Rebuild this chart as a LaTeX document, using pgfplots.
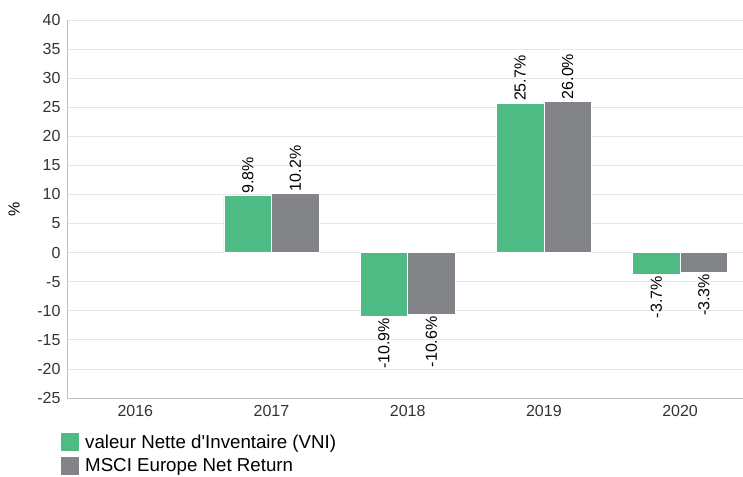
\documentclass[border=0pt]{standalone}
\usepackage{pgfplots}
\pgfplotsset{compat=1.18}
\usepackage{fontspec}
\setmainfont{Liberation Sans}
\definecolor{vni}{HTML}{4FBB84}
\definecolor{msci}{HTML}{838488}
\definecolor{gridc}{HTML}{E6E6E6}
\definecolor{axc}{HTML}{C0C0C0}
\definecolor{txt}{HTML}{333333}
\pgfplotstableread{
x y
1 9.8
2 -10.9
3 25.7
4 -3.7
}\vni
\pgfplotstableread{
x y
1 10.2
2 -10.6
3 26.0
4 -3.3
}\msci
\begin{document}
\begin{tikzpicture}
\useasboundingbox (0,0) rectangle (743pt,476pt);
\begin{axis}[
  at={(67pt,78pt)}, anchor=south west,
  scale only axis, width=676pt, height=378pt,
  xmin=-0.5015, xmax=4.462,
  ymin=-25, ymax=40,
  ytick={-25,-20,...,40},
  xtick={0,1,2,3,4},
  xticklabels={2016,2017,2018,2019,2020},
  ymajorgrids, major grid style={gridc, line width=0.8pt},
  axis line style={axc, line width=0.8pt},
  axis x line*=bottom, axis y line*=left,
  major tick length=0pt,
  tick label style={font=\fontsize{16}{19}\selectfont, text=txt},
  yticklabel style={xshift=-3pt},
  xticklabel style={yshift=-4pt},
  /pgf/number format/assume math mode=true,
  ylabel={\%},
  every axis y label/.style={at={(axis description cs:-0.0784,0.5)}, rotate=90, anchor=center,
    font=\fontsize{16}{19}\selectfont, text=black},
  ybar, bar width=47.5pt,
  nodes near coords={\pgfmathprintnumber[fixed,precision=1,fixed zerofill]{\pgfplotspointmeta}\%},
  visualization depends on={y \as \rawy},
  every node near coord/.append style={rotate=90,
    /utils/exec={\pgfmathparse{\rawy<0?1:0}\ifdim\pgfmathresult pt>0.5pt\gdef\anc{east}\else\gdef\anc{west}\fi},
    anchor=\anc, inner sep=2pt, font=\fontsize{16}{19}\selectfont, text=black},
  legend image code/.code={\fill[#1] (0pt,-9.5pt) rectangle (18.5pt,9pt);},
  legend style={at={(0,0)}, anchor=north west, xshift=-7pt, yshift=-34pt, draw=none, fill=none, inner sep=0pt, row sep=5pt,
    font=\fontsize{18.7}{21}\selectfont, text=black, cells={anchor=west},
    nodes={inner sep=0pt, text depth=0pt}},
  legend cell align=left,
  clip=false,
]
\addplot[fill=vni, draw=white, line width=0.5pt, bar shift=-23.75pt] table[x=x,y=y] {\vni};
\addlegendentry{\hspace{6pt}valeur Nette d\textquotesingle Inventaire (VNI)}
\addplot[fill=msci, draw=white, line width=0.5pt, bar shift=23.75pt] table[x=x,y=y] {\msci};
\addlegendentry{\hspace{6pt}MSCI Europe Net Return}
\end{axis}
\end{tikzpicture}
\end{document}
